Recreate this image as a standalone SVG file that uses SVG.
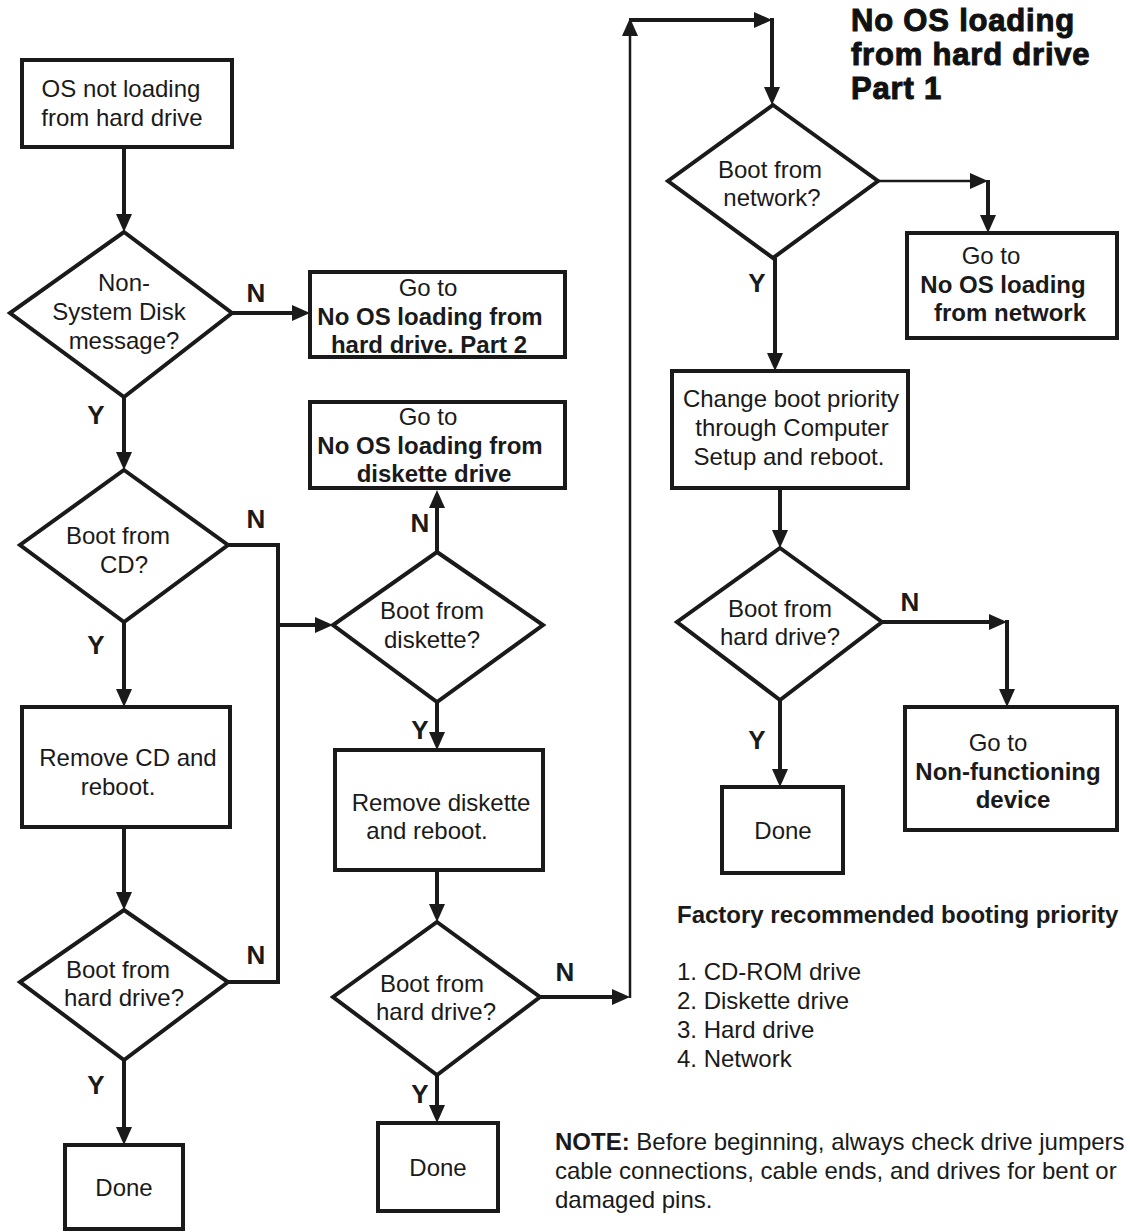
<svg xmlns="http://www.w3.org/2000/svg" width="1130" height="1232" viewBox="0 0 1130 1232">
<style>
  .box { fill: #fff; stroke: #1a1a1a; stroke-width: 4; }
  .ln { fill: none; stroke: #1a1a1a; stroke-width: 4; }
  .thin { fill: none; stroke: #1a1a1a; stroke-width: 2.5; }
  text { font-family: "Liberation Sans", Arial, sans-serif; font-size: 24px; fill: #1a1a1a; text-anchor: middle; }
  .b { font-weight: bold; }
  .lbl { font-weight: bold; font-size: 26px; }
  .title { font-weight: bold; font-size: 31px; text-anchor: start; letter-spacing: 0.8px; stroke: #111; stroke-width: 1; fill: #111; }
  .left { text-anchor: start; }
</style>
<defs>
  <marker id="ah" viewBox="0 0 18 16" refX="10" refY="8" markerWidth="18" markerHeight="16" markerUnits="userSpaceOnUse" orient="auto">
    <path d="M0,0 L18,8 L0,16 z" fill="#1a1a1a"/>
  </marker>
</defs>
<rect width="1130" height="1232" fill="#fff"/>

<g id="connectors">
  <path class="ln" d="M124,147 V224" marker-end="url(#ah)"/>
  <path class="ln" d="M232,313 H302" marker-end="url(#ah)"/>
  <path class="ln" d="M124,397 V462" marker-end="url(#ah)"/>
  <path class="ln" d="M228,545 H278 V982 H228"/>
  <path class="ln" d="M278,625 H325" marker-end="url(#ah)"/>
  <path class="ln" d="M124,622 V699" marker-end="url(#ah)"/>
  <path class="ln" d="M124,827 V902" marker-end="url(#ah)"/>
  <path class="ln" d="M124,1060 V1137" marker-end="url(#ah)"/>
  <path class="ln" d="M437,552 V498" marker-end="url(#ah)"/>
  <path class="ln" d="M437,702 V742" marker-end="url(#ah)"/>
  <path class="ln" d="M437,870 V914" marker-end="url(#ah)"/>
  <path class="ln" d="M437,1075 V1115" marker-end="url(#ah)"/>
  <path class="ln" d="M540,997 H622" marker-end="url(#ah)"/>
  <path class="thin" d="M630,998 V26" marker-end="url(#ah)"/>
  <path class="ln" d="M629,20 H764" marker-end="url(#ah)"/>
  <path class="ln" d="M772,18 V97" marker-end="url(#ah)"/>
  <path class="thin" d="M878,181 H980" marker-end="url(#ah)"/>
  <path class="ln" d="M988,180 V225" marker-end="url(#ah)"/>
  <path class="ln" d="M775,258 V363" marker-end="url(#ah)"/>
  <path class="ln" d="M780,488 V540" marker-end="url(#ah)"/>
  <path class="ln" d="M882,622 H999" marker-end="url(#ah)"/>
  <path class="ln" d="M1007,620 V699" marker-end="url(#ah)"/>
  <path class="ln" d="M780,700 V779" marker-end="url(#ah)"/>
  <text class="lbl" x="256" y="302">N</text>
  <text class="lbl" x="96" y="424">Y</text>
  <text class="lbl" x="256" y="528">N</text>
  <text class="lbl" x="420" y="532">N</text>
  <text class="lbl" x="96" y="654">Y</text>
  <text class="lbl" x="420" y="739">Y</text>
  <text class="lbl" x="256" y="964">N</text>
  <text class="lbl" x="96" y="1094">Y</text>
  <text class="lbl" x="420" y="1103">Y</text>
  <text class="lbl" x="565" y="981">N</text>
  <text class="lbl" x="757" y="292">Y</text>
  <text class="lbl" x="910" y="611">N</text>
  <text class="lbl" x="757" y="749">Y</text>
</g>

<g id="title">
  <text class="title" x="851" y="31">No OS loading</text>
  <text class="title" x="851" y="65">from hard drive</text>
  <text class="title" x="851" y="99">Part 1</text>
</g>

<g id="start">
  <rect class="box" x="22" y="60" width="210" height="87"/>
  <text x="121" y="97">OS not loading</text>
  <text x="122" y="126">from hard drive</text>
</g>

<g id="d-nonsystem">
  <polygon class="box" points="124,232 232,313 124,397 10,313"/>
  <text x="124" y="291">Non-</text>
  <text x="119" y="320">System Disk</text>
  <text x="124" y="349">message?</text>
</g>

<g id="goto-part2">
  <rect class="box" x="310" y="272" width="255" height="85"/>
  <text x="428" y="296">Go to</text>
  <text class="b" x="430" y="325">No OS loading from</text>
  <text class="b" x="429" y="353">hard drive. Part 2</text>
</g>

<g id="goto-diskette">
  <rect class="box" x="310" y="402" width="255" height="86"/>
  <text x="428" y="425">Go to</text>
  <text class="b" x="430" y="454">No OS loading from</text>
  <text class="b" x="434" y="482">diskette drive</text>
</g>

<g id="d-cd">
  <polygon class="box" points="124,470 228,545 124,622 20,545"/>
  <text x="118" y="544">Boot from</text>
  <text x="124" y="573">CD?</text>
</g>

<g id="remove-cd">
  <rect class="box" x="22" y="707" width="208" height="120"/>
  <text x="128" y="766">Remove CD and</text>
  <text x="118" y="795">reboot.</text>
</g>

<g id="d-hd1">
  <polygon class="box" points="124,910 228,982 124,1060 20,982"/>
  <text x="118" y="978">Boot from</text>
  <text x="124" y="1006">hard drive?</text>
</g>

<g id="done1">
  <rect class="box" x="65" y="1145" width="118" height="84"/>
  <text x="124" y="1196">Done</text>
</g>

<g id="d-diskette">
  <polygon class="box" points="437,552 543,625 437,702 333,625"/>
  <text x="432" y="619">Boot from</text>
  <text x="432" y="648">diskette?</text>
</g>

<g id="remove-diskette">
  <rect class="box" x="335" y="750" width="208" height="120"/>
  <text x="441" y="811">Remove diskette</text>
  <text x="427" y="839">and reboot.</text>
</g>

<g id="d-hd2">
  <polygon class="box" points="437,922 540,997 437,1075 333,997"/>
  <text x="432" y="992">Boot from</text>
  <text x="436" y="1020">hard drive?</text>
</g>

<g id="done2">
  <rect class="box" x="378" y="1123" width="120" height="88"/>
  <text x="438" y="1176">Done</text>
</g>

<g id="d-network">
  <polygon class="box" points="773,105 878,181 773,258 668,181"/>
  <text x="770" y="178">Boot from</text>
  <text x="772" y="206">network?</text>
</g>

<g id="goto-network">
  <rect class="box" x="907" y="233" width="210" height="105"/>
  <text x="991" y="264">Go to</text>
  <text class="b" x="1003" y="293">No OS loading</text>
  <text class="b" x="1010" y="321">from network</text>
</g>

<g id="change-priority">
  <rect class="box" x="672" y="371" width="236" height="117"/>
  <text x="791" y="407">Change boot priority</text>
  <text x="792" y="436">through Computer</text>
  <text x="789" y="465">Setup and reboot.</text>
</g>

<g id="d-hd3">
  <polygon class="box" points="780,548 882,622 780,700 677,622"/>
  <text x="780" y="617">Boot from</text>
  <text x="780" y="645">hard drive?</text>
</g>

<g id="done3">
  <rect class="box" x="722" y="787" width="121" height="86"/>
  <text x="783" y="839">Done</text>
</g>

<g id="goto-nonfunc">
  <rect class="box" x="905" y="707" width="212" height="123"/>
  <text x="998" y="751">Go to</text>
  <text class="b" x="1008" y="780">Non-functioning</text>
  <text class="b" x="1013" y="808">device</text>
</g>

<g id="priority-list">
  <text class="b left" x="677" y="923">Factory recommended booting priority</text>
  <text class="left" x="677" y="980">1. CD-ROM drive</text>
  <text class="left" x="677" y="1009">2. Diskette drive</text>
  <text class="left" x="677" y="1038">3. Hard drive</text>
  <text class="left" x="677" y="1067">4. Network</text>
</g>

<g id="note">
  <text class="left" x="555" y="1150"><tspan font-weight="bold">NOTE:</tspan> Before beginning, always check drive jumpers</text>
  <text class="left" x="555" y="1179">cable connections, cable ends, and drives for bent or</text>
  <text class="left" x="555" y="1208">damaged pins.</text>
</g>
</svg>
